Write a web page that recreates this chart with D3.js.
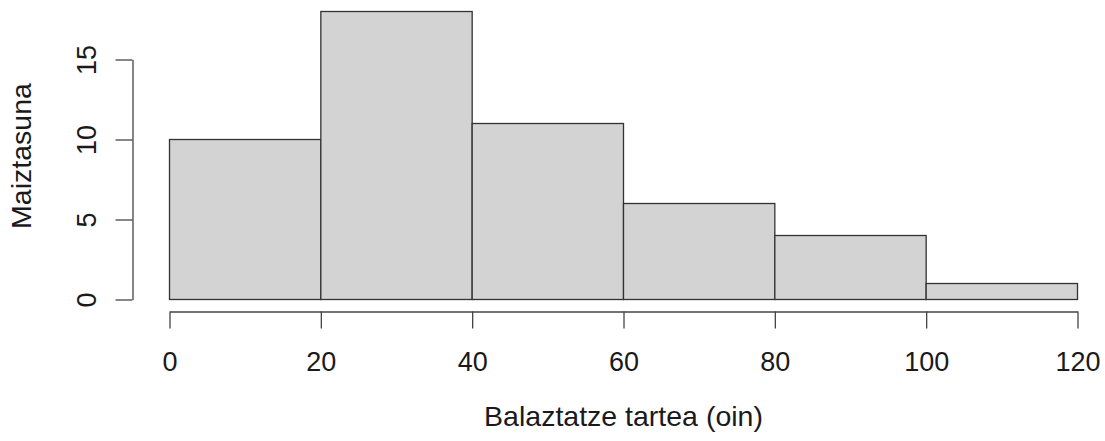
<html>
<head>
<meta charset="utf-8">
<script src="https://d3js.org/d3.v7.min.js"></script>
<style>
  body { margin: 0; background: #fff; }
  text { font-family: "Liberation Sans", Arial, sans-serif; fill: #1a1a1a; }
</style>
</head>
<body>
<script>
// histogram data
var breaks = [0, 20, 40, 60, 80, 100, 120]
var counts = [10, 18, 11, 6, 4, 1]
var xTicks = [0, 20, 40, 60, 80, 100, 120]
var yTicks = [0, 5, 10, 15]
var xTitle = "Balaztatze tartea (oin)"
var yTitle = "Maiztasuna"

var width = 1105, height = 441
var svg = d3.select("body").append("svg")
  .attr("width", width)
  .attr("height", height)

var x = d3.scaleLinear().domain([0, 120]).range([169.5, 1077.5])
var y = d3.scaleLinear().domain([0, 15]).range([299.5, 59.5])

var bins = counts.map(function(c, i) { return {x0: breaks[i], x1: breaks[i + 1], n: c} })

svg.selectAll("rect.bar")
  .data(bins)
  .enter().append("rect")
    .attr("class", "bar")
    .attr("x", d => x(d.x0))
    .attr("width", d => x(d.x1) - x(d.x0))
    .attr("y", d => y(d.n))
    .attr("height", d => y(0) - y(d.n))
    .attr("fill", "#d3d3d3")
    .attr("stroke", "#333")
    .attr("stroke-width", 1.3)

// x axis
var gx = svg.append("g").attr("transform", "translate(0,311.5)")
  .call(d3.axisBottom(x).tickValues(xTicks).tickSize(17).tickSizeOuter(0))
gx.select(".domain").attr("stroke", "#444").attr("stroke-width", 1.3)
gx.selectAll(".tick line").attr("stroke", "#444").attr("stroke-width", 1.3)
gx.selectAll(".tick text")
  .attr("y", 50).attr("dy", "0.35em")
  .style("font-size", "27px").style("font-family", "Liberation Sans, Arial, sans-serif")
  .attr("fill", "#1a1a1a")

// y axis
var gy = svg.append("g").attr("transform", "translate(132.5,0)")
  .call(d3.axisLeft(y).tickValues(yTicks).tickSize(17).tickSizeOuter(0))
gy.select(".domain").attr("stroke", "#444").attr("stroke-width", 1.3)
gy.selectAll(".tick line").attr("stroke", "#444").attr("stroke-width", 1.3)
gy.selectAll(".tick text")
  .attr("x", 0).attr("dy", "0.35em")
  .attr("text-anchor", "middle")
  .attr("transform", "translate(-46,0) rotate(-90)")
  .style("font-size", "27px").style("font-family", "Liberation Sans, Arial, sans-serif")
  .attr("fill", "#1a1a1a")

svg.append("text")
  .attr("x", (x(0) + x(120)) / 2)
  .attr("y", 416)
  .attr("dy", "0.35em")
  .attr("text-anchor", "middle")
  .style("font-size", "28.5px")
  .text(xTitle)

svg.append("text")
  .attr("transform", "translate(21,156) rotate(-90)")
  .attr("dy", "0.35em")
  .attr("text-anchor", "middle")
  .style("font-size", "28.5px")
  .text(yTitle)
</script>
</body>
</html>
